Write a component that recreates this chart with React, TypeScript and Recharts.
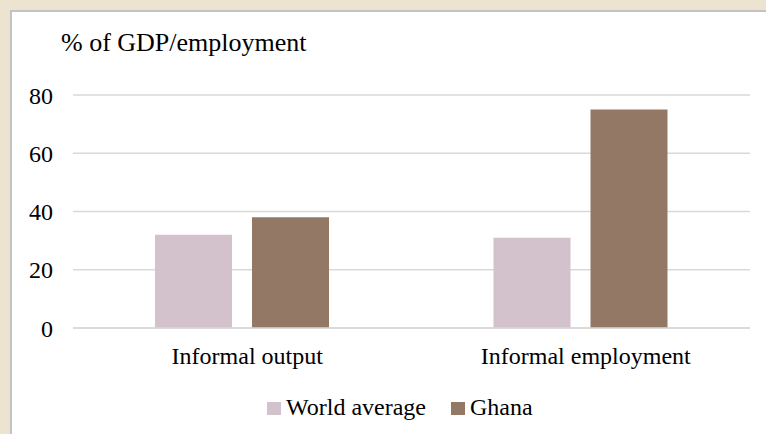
import React from 'react';
import { BarChart, Bar, XAxis, YAxis, CartesianGrid, Legend } from 'recharts';

const FONT = 'Liberation Serif, Tinos, Nimbus Roman, DejaVu Serif, serif';
const GRID = '#d9d9d9';
const WORLD_COLOR = '#d3c1cc';
const GHANA_COLOR = '#947866';

const categories = ['Informal output', 'Informal employment'];
const worldAverage = [32, 31];
const ghana = [38, 75];
const yTicks = [0, 20, 40, 60, 80];

const data = categories.map((name, i) => ({ name, world: worldAverage[i], ghana: ghana[i] }));

const legendItems = [
  { label: 'World average', color: WORLD_COLOR },
  { label: 'Ghana', color: GHANA_COLOR },
];

function LegendContent() {
  return (
    <div style={{ display: 'flex', alignItems: 'center', fontFamily: FONT, fontSize: 24, lineHeight: '24px', color: '#000' }}>
      {legendItems.map((it, i) => (
        <div key={it.label} style={{ display: 'flex', alignItems: 'center', marginRight: i === 0 ? 25 : 0 }}>
          <span style={{ display: 'inline-block', width: 14, height: 13, background: it.color, marginRight: 5, marginTop: 3 }} />
          <span>{it.label}</span>
        </div>
      ))}
    </div>
  );
}

export default function App() {
  const tick = { fill: '#000', fontSize: 24, fontFamily: FONT };
  return (
    <div style={{ position: 'absolute', left: 0, top: 0, width: 766, height: 434, background: '#ede3d1', overflow: 'hidden' }}>
      <div style={{ position: 'absolute', left: 10, top: 10, width: 756, height: 424, background: '#fff',
                    borderTop: '2px solid #c3c3c3', borderLeft: '2px solid #c3c3c3', boxSizing: 'border-box' }} />
      <div style={{ position: 'absolute', left: 61, top: 30, fontFamily: FONT, fontSize: 26, lineHeight: '26px', color: '#000', whiteSpace: 'nowrap' }}>
        % of GDP/employment
      </div>
      <div style={{ position: 'absolute', left: 0, top: 0 }}>
        <BarChart width={766} height={434} data={data} barSize={77} barGap={20}
                  margin={{ top: 95, right: 16, left: 0, bottom: 0 }}>
          <CartesianGrid vertical={false} stroke={GRID} strokeWidth={1.3} />
          <XAxis dataKey="name" height={106} tick={{ ...tick, dx: 5 }} tickLine={false} tickSize={0} tickMargin={19}
                 axisLine={{ stroke: GRID, strokeWidth: 1.3 }} />
          <YAxis domain={[0, 80]} ticks={yTicks} width={73} tick={tick} tickLine={false} tickSize={0}
                 tickMargin={20} axisLine={false} />
          <Legend verticalAlign="middle" align="center" content={<LegendContent />}
                  wrapperStyle={{ top: 395, left: 267, width: 320 }} />
          <Bar dataKey="world" name="World average" fill={WORLD_COLOR} isAnimationActive={false} />
          <Bar dataKey="ghana" name="Ghana" fill={GHANA_COLOR} isAnimationActive={false} />
        </BarChart>
      </div>
    </div>
  );
}
